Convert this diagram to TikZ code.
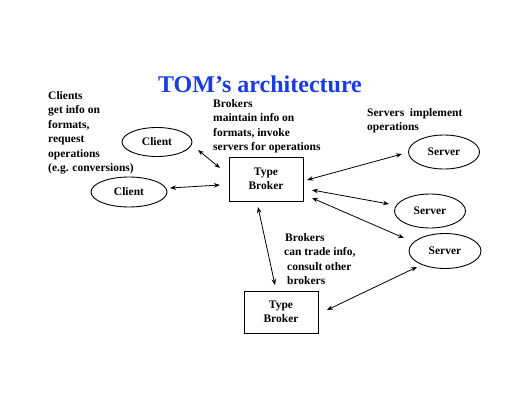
\documentclass[tikz,border=0pt]{standalone}
\usepackage{fontspec}
\setmainfont{Liberation Serif}
\usetikzlibrary{arrows.meta,shapes.geometric}
\definecolor{titleblue}{RGB}{24,60,226}
\begin{document}
\begin{tikzpicture}[x=1pt,y=-1pt,
  every node/.style={font=\fontsize{11.5}{14.5}\selectfont\bfseries},
  ell/.style={draw,line width=0.9pt,ellipse,inner sep=0pt},
  boxn/.style={draw,line width=0.9pt,rectangle,align=center,inner sep=0pt},
  txt/.style={align=left,anchor=north west,inner sep=0pt},
  arr/.style={line width=0.8pt,{Stealth[length=6pt,width=4.5pt]}-{Stealth[length=6pt,width=4.5pt]}}]
\useasboundingbox (0,0) rectangle (520,402);
\node[font=\fontsize{24}{28}\selectfont\bfseries,text=titleblue] (title) at (260,84) {TOM’s architecture};
\node[txt] (ctext) at (48,91) {Clients\\get info on\\formats,\\request\\operations\\(e.g. conversions)};
\node[txt] (btext) at (213,99) {Brokers\\maintain info on\\formats, invoke\\servers for operations};
\node[txt] (stext) at (367,108) {Servers\ \ implement\\operations};
\node[txt] (ttext) at (284,233) {\hspace{1pt}Brokers\\can trade info,\\\hspace{3pt}consult other\\\hspace{3pt}brokers};
\node[ell,minimum width=70pt,minimum height=29pt] (c1) at (157,142) {Client};
\node[ell,minimum width=76pt,minimum height=30pt] (c2) at (129,192) {Client};
\node[boxn,minimum width=74pt,minimum height=44pt] (b1) at (266,179) {Type\\Broker};
\node[ell,minimum width=71pt,minimum height=34pt] (s1) at (444,152) {Server};
\node[ell,minimum width=71pt,minimum height=34pt] (s2) at (430,211) {Server};
\node[ell,minimum width=72pt,minimum height=35pt] (s3) at (445,251) {Server};
\node[boxn,minimum width=74pt,minimum height=42pt] (b2) at (281,312) {Type\\Broker};
\draw[arr] ([shift={(41,8)}]c1.center) -- ([shift={(-46,-11)}]b1.center);
\draw[arr] ([shift={(41,-4)}]c2.center) -- ([shift={(-46,6)}]b1.center);
\draw[arr] ([shift={(41,1)}]b1.center) -- ([shift={(-42,2)}]s1.center);
\draw[arr] ([shift={(46,11)}]b1.center) -- ([shift={(-41,-7)}]s2.center);
\draw[arr] ([shift={(46,19)}]b1.center) -- ([shift={(-41,-13)}]s3.center);
\draw[arr] ([shift={(-8,28)}]b1.center) -- ([shift={(-6,-27)}]b2.center);
\draw[arr] ([shift={(46,-2)}]b2.center) -- ([shift={(-28,16)}]s3.center);
\end{tikzpicture}
\end{document}
